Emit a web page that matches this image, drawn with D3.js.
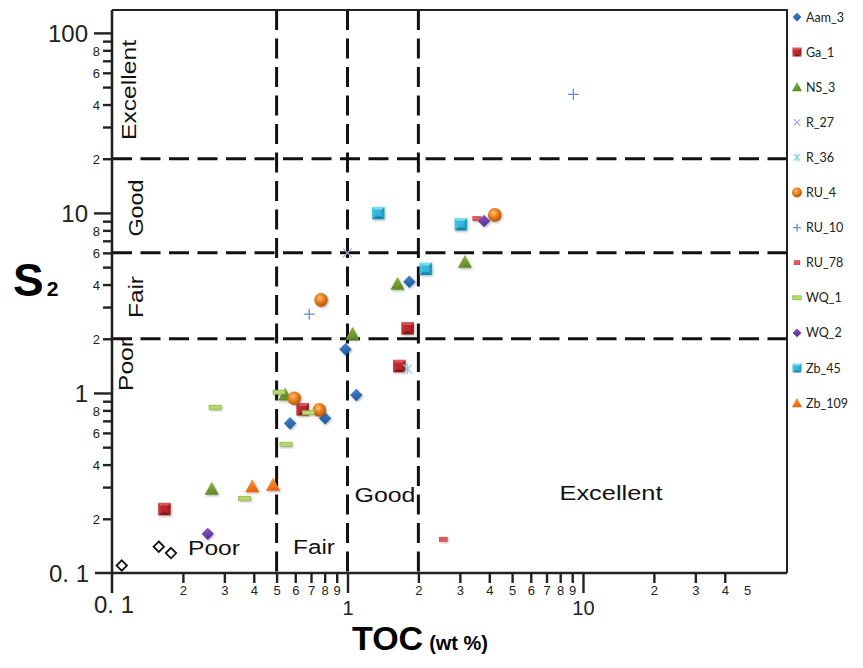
<!DOCTYPE html>
<html>
<head>
<meta charset="utf-8">
<script src="https://cdn.jsdelivr.net/npm/d3@7"></script>
<style>
  body { margin: 0; background: #fff; }
  svg { display: block; }
</style>
</head>
<body>
<svg id="chart" width="863" height="668"></svg>
<script>
// ---- Data: TOC (wt %) vs S2 (mg HC/g rock), one array of [TOC, S2] pairs per well ----
const aam3  = [[0.570, 0.679], [0.803, 0.723], [0.98, 1.75], [1.09, 0.975], [1.83, 4.15]];
const ga1   = [[0.167, 0.227], [0.645, 0.811], [1.66, 1.41], [1.80, 2.29]];
const ns3   = [[0.265, 0.292], [0.543, 0.975], [1.05, 2.12], [1.63, 4.02], [3.15, 5.32]];
const r27   = [[1.00, 6.0]];
const r36   = [[1.80, 1.36]];
const ru4   = [[0.594, 0.934], [0.759, 0.805], [0.772, 3.29], [4.22, 9.75]];
const ru10  = [[0.688, 2.74], [9.10, 45.6]];
const ru78  = [[2.55, 0.154], [3.54, 9.30]];
const wq1   = [[0.274, 0.833], [0.365, 0.260], [0.512, 1.01], [0.548, 0.519], [0.682, 0.777]];
const wq2   = [[0.255, 0.165], [3.80, 9.03]];
const zb45  = [[1.35, 10.0], [2.15, 4.89], [3.03, 8.66]];
const zb109 = [[0.394, 0.302], [0.483, 0.308]];
// samples plotted without a legend entry (open diamonds)
const unlisted = [[0.110, 0.110], [0.158, 0.140], [0.178, 0.129]];

const seriesNames = ["Aam_3", "Ga_1", "NS_3", "R_27", "R_36", "RU_4", "RU_10", "RU_78", "WQ_1", "WQ_2", "Zb_45", "Zb_109"];
const seriesData  = [aam3, ga1, ns3, r27, r36, ru4, ru10, ru78, wq1, wq2, zb45, zb109];
const seriesShape = ["diamondBlue", "squareRed", "triGreen", "cross", "star", "sphere", "plus", "dashRed", "dashGreen", "diamondPurple", "squareCyan", "triOrange"];

// ---- Classification thresholds ----
const tocLimits = [0.5, 1, 2];
const s2Limits  = [2, 6, 20];
const s2ZoneNames  = ["Excellent", "Good", "Fair", "Poor"];
const tocZoneNames = ["Poor", "Fair", "Good", "Excellent"];

// ---- Tick labels ----
const yMajorTicks  = [0.1, 1, 10, 100];
const yMajorLabels = ["0. 1", "1", "10", "100"];
const yMinorTicks  = [0.2, 0.3, 0.4, 0.5, 0.6, 0.7, 0.8, 0.9, 2, 3, 4, 5, 6, 7, 8, 9, 20, 30, 40, 50, 60, 70, 80, 90];
const xMajorTicks  = [1, 10];
const xMajorLabels = ["1", "10"];
const xMinorTicks  = [0.2, 0.3, 0.4, 0.5, 0.6, 0.7, 0.8, 0.9, 2, 3, 4, 5, 6, 7, 8, 9, 20, 30, 40];

const svg = d3.select("#chart");
const FONT = "'Liberation Sans', Arial, sans-serif";

const x = d3.scaleLog().domain([0.1, 73.5]).range([112, 787]);
const y = d3.scaleLog().domain([0.1, 134]).range([573, 10]);

const plotLeft = x(0.1), plotRight = 787, plotTop = 10, plotBottom = y(0.1);

// ---- Gradients & shadow ----
const defs = svg.append("defs");
const shadow = defs.append("filter").attr("id", "shd").attr("x", "-50%").attr("y", "-50%").attr("width", "200%").attr("height", "200%");
shadow.append("feDropShadow").attr("dx", 1).attr("dy", 1.2).attr("stdDeviation", 0.9)
  .attr("flood-color", "#000").attr("flood-opacity", 0.3);

const sph = defs.append("radialGradient").attr("id", "gSphere").attr("cx", "40%").attr("cy", "35%").attr("r", "65%");
sph.append("stop").attr("offset", "0%").attr("stop-color", "#FBC27E");
sph.append("stop").attr("offset", "45%").attr("stop-color", "#EE8420");
sph.append("stop").attr("offset", "100%").attr("stop-color", "#B65409");

function linGrad(id, c1, c2) {
  const g = defs.append("linearGradient").attr("id", id).attr("x1", "0").attr("y1", "0").attr("x2", "0.3").attr("y2", "1");
  g.append("stop").attr("offset", "0%").attr("stop-color", c1);
  g.append("stop").attr("offset", "100%").attr("stop-color", c2);
}
linGrad("gGreen", "#93BC4C", "#5F8A25");
linGrad("gOrange", "#F9A050", "#E8650C");
linGrad("gBlue", "#4C8AD2", "#1F5A9E");
linGrad("gPurple", "#8B5CC4", "#5B2E93");

// ---- Marker drawing ----
function pyramid(g, s, c) {
  const h = s / 2;
  g.append("path").attr("d", `M${-h},${-h}L${h},${-h}L0,0Z`).attr("fill", c[0]);
  g.append("path").attr("d", `M${-h},${-h}L${-h},${h}L0,0Z`).attr("fill", c[1]);
  g.append("path").attr("d", `M${h},${-h}L${h},${h}L0,0Z`).attr("fill", c[2]);
  g.append("path").attr("d", `M${-h},${h}L${h},${h}L0,0Z`).attr("fill", c[3]);
  g.append("rect").attr("x", -h * 0.55).attr("y", -h * 0.55).attr("width", h * 1.1).attr("height", h * 1.1)
    .attr("fill", c[4]).attr("opacity", 0.9);
}

function drawMarker(g, shape, k) {
  // k scales the marker (1 = plot size)
  switch (shape) {
    case "diamondBlue":
    case "diamondPurple": {
      const r = 6.2 * k;
      g.append("path").attr("d", `M0,${-r}L${r},0L0,${r}L${-r},0Z`)
        .attr("fill", shape === "diamondBlue" ? "url(#gBlue)" : "url(#gPurple)");
      break;
    }
    case "squareRed":
      pyramid(g, 12.5 * k, ["#D8575B", "#C23337", "#9E1D21", "#8A171B", "#B8272C"]);
      break;
    case "squareCyan":
      pyramid(g, 12.5 * k, ["#7FDDF2", "#3FC2E2", "#1D9CC0", "#1689AA", "#33B5DA"]);
      break;
    case "triGreen":
    case "triOrange": {
      const s = 7 * k;
      g.append("path").attr("d", `M0,${-s * 1.05}L${s},${s * 0.8}L${-s},${s * 0.8}Z`)
        .attr("fill", shape === "triGreen" ? "url(#gGreen)" : "url(#gOrange)");
      break;
    }
    case "sphere":
      g.append("circle").attr("r", 6.8 * k).attr("fill", "url(#gSphere)");
      break;
    case "cross": {
      const r = 4.5 * k;
      g.append("path").attr("d", `M${-r},${-r}L${r},${r}M${r},${-r}L${-r},${r}`)
        .attr("stroke", "#B7A6DD").attr("stroke-width", 1.2).attr("fill", "none");
      break;
    }
    case "star": {
      const r = 4.5 * k;
      g.append("path").attr("d", `M${-r},${-r}L${r},${r}M${r},${-r}L${-r},${r}M0,${-r * 1.2}L0,${r * 1.2}`)
        .attr("stroke", "#86D3E8").attr("stroke-width", 1.2).attr("fill", "none");
      break;
    }
    case "plus": {
      const r = 5.5 * k;
      g.append("path").attr("d", `M${-r},0L${r},0M0,${-r}L0,${r}`)
        .attr("stroke", "#5E8FD8").attr("stroke-width", 1.3).attr("fill", "none");
      break;
    }
    case "dashRed":
      g.append("rect").attr("x", -4 * k).attr("y", -2).attr("width", 8 * k).attr("height", 4)
        .attr("fill", "#E3585E").attr("stroke", "#C23A42").attr("stroke-width", 0.6);
      break;
    case "dashGreen":
      g.append("rect").attr("x", -6 * k).attr("y", -2).attr("width", 12 * k).attr("height", 4)
        .attr("fill", "#B9D96F").attr("stroke", "#8DB03C").attr("stroke-width", 0.7);
      break;
    case "openDiamond": {
      const r = 5.2 * k;
      g.append("path").attr("d", `M0,${-r}L${r},0L0,${r}L${-r},0Z`)
        .attr("fill", "#fff").attr("stroke", "#111").attr("stroke-width", 1.8);
      break;
    }
  }
}

// ---- Classification dashed lines ----
const dash = "20,8.5";
svg.append("g").selectAll("line").data(tocLimits).join("line")
  .attr("x1", d => x(d)).attr("x2", d => x(d)).attr("y1", plotTop).attr("y2", plotBottom)
  .attr("stroke", "#111").attr("stroke-width", 3).attr("stroke-dasharray", dash);
svg.append("g").selectAll("line").data(s2Limits).join("line")
  .attr("x1", plotLeft).attr("x2", plotRight).attr("y1", d => y(d)).attr("y2", d => y(d))
  .attr("stroke", "#111").attr("stroke-width", 3).attr("stroke-dasharray", dash);

// ---- Frame & axis lines ----
const frame = svg.append("g").attr("stroke", "#222").attr("stroke-width", 2).attr("fill", "none");
frame.append("path").attr("d", `M${plotLeft},${plotTop}L${plotRight},${plotTop}L${plotRight},${plotBottom}`);
frame.append("line").attr("x1", plotLeft).attr("x2", plotLeft).attr("y1", plotTop).attr("y2", plotBottom + 20).attr("stroke-width", 2.6);
frame.append("line").attr("x1", plotLeft - 17).attr("x2", plotRight).attr("y1", plotBottom).attr("y2", plotBottom).attr("stroke-width", 2.6);

// ---- Y axis ticks ----
const yMajor = svg.append("g").attr("transform", `translate(${plotLeft},0)`)
  .call(d3.axisLeft(y).tickValues(yMajorTicks.slice(1)).tickSize(18).tickPadding(6)
    .tickFormat(d => yMajorLabels[yMajorTicks.indexOf(d)]));
const yMinor = svg.append("g").attr("transform", `translate(${plotLeft},0)`)
  .call(d3.axisLeft(y).tickValues(yMinorTicks).tickSize(9).tickPadding(3)
    .tickFormat(d => { const m = Math.round(d / Math.pow(10, Math.floor(Math.log10(d) + 1e-9))); return m % 2 === 0 ? m : ""; }));
[yMajor, yMinor].forEach(g => {
  g.select(".domain").remove();
  g.selectAll(".tick line").attr("stroke", "#222").attr("stroke-width", 2.4);
  g.selectAll("text").attr("fill", "#222").attr("font-family", FONT);
});
yMajor.selectAll("text").attr("font-size", 24).attr("dy", "0.36em");
yMinor.selectAll("text").attr("font-size", 13).attr("dy", "0.36em");
svg.append("text").attr("x", plotLeft - 23).attr("y", plotBottom).attr("dy", "0.36em")
  .attr("text-anchor", "end").attr("font-family", FONT).attr("font-size", 24).attr("fill", "#222")
  .text(yMajorLabels[0]);

// ---- X axis ticks ----
const xMajor = svg.append("g").attr("transform", `translate(0,${plotBottom})`)
  .call(d3.axisBottom(x).tickValues(xMajorTicks).tickSize(20).tickPadding(8)
    .tickFormat(d => xMajorLabels[xMajorTicks.indexOf(d)]));
const xMinor = svg.append("g").attr("transform", `translate(0,${plotBottom})`)
  .call(d3.axisBottom(x).tickValues(xMinorTicks).tickSize(10).tickPadding(3)
    .tickFormat(d => Math.round(d / Math.pow(10, Math.floor(Math.log10(d) + 1e-9)))));
[xMajor, xMinor].forEach(g => {
  g.select(".domain").remove();
  g.selectAll(".tick line").attr("stroke", "#222").attr("stroke-width", 2.4);
  g.selectAll("text").attr("fill", "#222").attr("font-family", FONT);
});
xMajor.selectAll("text").attr("font-size", 20);
xMinor.selectAll("text").attr("font-size", 13);
// label "5" of the 50 position sits without a tick mark
svg.append("text").attr("x", x(50)).attr("y", plotBottom + 13).attr("dy", "0.71em")
  .attr("text-anchor", "middle").attr("font-family", FONT).attr("font-size", 13).attr("fill", "#222").text("5");
svg.append("text").attr("x", plotLeft + 2).attr("y", plotBottom + 40)
  .attr("text-anchor", "middle").attr("font-family", FONT).attr("font-size", 24).attr("fill", "#222").text("0. 1");

// ---- Zone names ----
const s2LabelY = [90, 208, 297, 365];
const s2LabelX = [129, 136, 136, 126];
const s2LabelLen = [100, 57, 42, 52];
s2ZoneNames.forEach((n, i) => {
  svg.append("text").attr("transform", `translate(${s2LabelX[i]},${s2LabelY[i]}) rotate(-90)`)
    .attr("text-anchor", "middle").attr("dominant-baseline", "central")
    .attr("font-family", FONT).attr("font-size", 20).attr("fill", "#111")
    .attr("textLength", s2LabelLen[i]).attr("lengthAdjust", "spacingAndGlyphs").text(n);
});
const tocLabelX = [214, 314, 385, 611];
const tocLabelY = [548, 547, 495, 493];
const tocLabelLen = [52, 42, 61, 103];
tocZoneNames.forEach((n, i) => {
  svg.append("text").attr("x", tocLabelX[i]).attr("y", tocLabelY[i])
    .attr("text-anchor", "middle").attr("dominant-baseline", "central")
    .attr("font-family", FONT).attr("font-size", 20).attr("fill", "#111")
    .attr("textLength", tocLabelLen[i]).attr("lengthAdjust", "spacingAndGlyphs").text(n);
});

// ---- Axis titles ----
const yt = svg.append("text").attr("x", 13).attr("y", 296).attr("font-family", FONT).attr("font-weight", "bold").attr("fill", "#000");
yt.append("tspan").attr("font-size", 46).text("S");
yt.append("tspan").attr("font-size", 21).attr("dx", 3).text("2");
const xt = svg.append("text").attr("x", 352).attr("y", 650).attr("font-family", FONT).attr("font-weight", "bold").attr("fill", "#000");
xt.append("tspan").attr("font-size", 34).text("TOC");
xt.append("tspan").attr("font-size", 20).attr("dx", 6).text("(wt %)");

// ---- Points ----
const pts = svg.append("g");
unlisted.forEach(p => {
  drawMarker(pts.append("g").attr("transform", `translate(${x(p[0])},${y(p[1])})`), "openDiamond", 1);
});
seriesData.forEach((arr, i) => {
  arr.forEach(p => {
    const g = pts.append("g").attr("transform", `translate(${x(p[0])},${y(p[1])})`);
    if (!["cross", "star", "plus"].includes(seriesShape[i])) g.attr("filter", "url(#shd)");
    drawMarker(g, seriesShape[i], 1);
  });
});

// ---- Legend ----
const legend = svg.append("g");
seriesNames.forEach((n, i) => {
  const ly = 17 + i * 35.1;
  const g = legend.append("g").attr("transform", `translate(797,${ly})`);
  drawMarker(g, seriesShape[i], 0.72);
  legend.append("text").attr("x", 806).attr("y", ly).attr("dy", "0.36em")
    .attr("font-family", "Lato, 'Open Sans', sans-serif").attr("font-size", 12.5).attr("fill", "#222").text(n);
});
</script>
</body>
</html>
